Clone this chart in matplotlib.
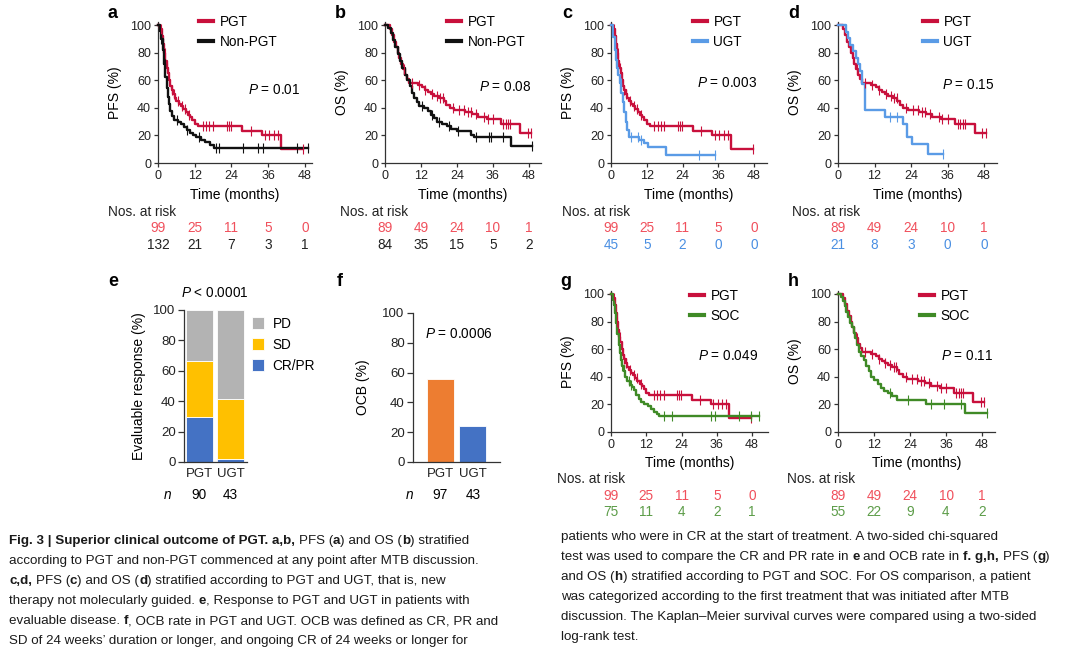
import numpy as np
import matplotlib
matplotlib.use('Agg')
import matplotlib.pyplot as plt
import matplotlib.transforms as mtransforms
from matplotlib.lines import Line2D

plt.rcParams['font.family'] = ['Liberation Sans', 'DejaVu Sans']
plt.rcParams['mathtext.fontset'] = 'custom'
plt.rcParams['mathtext.rm'] = 'Liberation Sans'
plt.rcParams['mathtext.it'] = 'Liberation Sans:italic'

# ---------------- data ----------------
risk_times = [0, 12, 24, 36, 48]

# PFS, PGT (same curve in a, c, g)
pfs_pgt_t = [0, 0.8, 1.2, 1.6, 2.0, 2.4, 2.8, 3.2, 3.6, 4.0, 4.5, 5.0, 5.5, 6.0, 6.8,
             7.5, 8.2, 9.0, 9.8, 10.5, 11.2, 12.0, 13.0, 27.5, 34.0, 40.3]
pfs_pgt_s = [100, 97, 92, 86, 80, 74, 69, 65, 60, 56, 53, 50, 47, 45, 43,
             41, 39, 37, 35, 33, 31, 28.5, 26.5, 23.5, 20.5, 10.5]
pfs_pgt_end = 47.5
pfs_pgt_cens = [1.1, 2.2, 2.9, 4.5, 5.2, 6.5, 7.8, 8.8, 10.2, 14.6, 15.7, 16.8, 17.9,
                22.4, 23.2, 23.9, 30.3, 34.8, 36.4, 37.8, 39.2, 47.5]

# PFS, non-PGT
pfs_non_t = [0, 0.5, 1.0, 1.5, 2.0, 2.4, 2.8, 3.2, 3.6, 4.0, 4.6, 5.3, 6.5, 7.5, 8.5,
             9.5, 10.5, 11.5, 12.5, 14.0, 15.5, 17.0, 18.3]
pfs_non_s = [100, 96, 90, 82, 72, 62, 54, 48, 43, 38, 34, 31, 29.5, 28, 26,
             24, 22, 20.5, 19, 17, 15, 13, 11]
pfs_non_end = 49.0
pfs_non_cens = [1.0, 2.3, 6.2, 9.5, 13.3, 18.8, 19.9, 27.6, 32.6, 34.2, 45.3, 49.0]

# OS, PGT (same curve in b, d, h)
os_pgt_t = [0, 1.8, 2.4, 3.0, 3.6, 4.2, 4.8, 5.4, 6.0, 6.6, 7.2, 8.0, 11.0, 12.5, 13.5,
            14.5, 15.5, 16.5, 18.0, 19.5, 20.3, 21.5, 23.0, 26.5, 29.0, 31.0, 34.0, 38.5, 45.0]
os_pgt_s = [100, 97, 93, 88, 84, 80, 76, 72, 68, 64, 61, 58, 56.5, 55, 53,
            51.5, 50, 48.5, 47, 45, 42, 40, 38.5, 37, 35.5, 33.5, 32, 28.5, 21.5]
os_pgt_end = 48.5
os_pgt_cens = [6.2, 9.0, 11.2, 13.5, 15.7, 17.4, 18.5, 19.3, 22.5, 24.7, 26.4, 27.5,
               28.7, 30.3, 33.1, 34.3, 36.0, 39.3, 40.2, 41.0, 41.6, 47.5, 48.5]

# OS, non-PGT
os_non_t = [0, 1.0, 2.0, 2.8, 3.5, 4.2, 5.0, 5.8, 6.6, 7.4, 8.2, 9.0, 9.8, 10.6,
            11.5, 13.0, 14.5, 15.5, 16.5, 17.5, 19.0, 20.5, 22.0, 24.0, 28.5, 29.5, 42.0]
os_non_s = [100, 98, 94, 89, 84, 79, 74, 69, 64, 60, 56, 51, 47, 44,
            41, 39.5, 37.5, 35, 32.5, 30, 28.5, 27, 25, 23, 20.5, 19, 12.5]
os_non_end = 49.0
os_non_cens = [12.3, 15.7, 18.0, 21.3, 24.2, 30.3, 34.8, 35.4, 39.3, 49.0]

# PFS, UGT
pfs_ugt_t = [0, 0.8, 1.2, 1.6, 2.0, 2.5, 3.0, 3.5, 4.0, 4.5, 5.0, 5.5, 6.0, 9.5,
             11.0, 12.3, 18.6]
pfs_ugt_s = [100, 91, 82, 75, 69, 64, 58, 51, 44, 37, 30, 24, 19, 17,
             14.5, 11.5, 5.5]
pfs_ugt_end = 35.0
pfs_ugt_cens = [1.7, 3.4, 6.7, 9.0, 10.1, 29.7, 35.0]

# OS, UGT
os_ugt_t = [0, 2.5, 3.2, 4.0, 5.0, 5.8, 6.5, 7.2, 7.8, 9.0, 15.5, 21.5, 22.6, 24.4, 29.5]
os_ugt_s = [100, 95.2, 90.5, 85.7, 81, 76.2, 71.4, 66.7, 57.1, 38.1, 33.3, 28.5, 19.0, 13.5, 6.7]
os_ugt_end = 34.5
os_ugt_cens = [17.0, 19.5, 34.5]

# PFS, SOC
pfs_soc_t = [0, 0.6, 1.0, 1.4, 1.8, 2.2, 2.6, 3.0, 3.4, 3.8, 4.3, 4.9, 5.6, 6.3, 7.0,
             7.8, 8.6, 9.4, 10.2, 11.2, 12.5, 13.5, 14.5, 15.5, 16.5]
pfs_soc_s = [100, 96, 92, 86, 79, 71, 63, 57, 52, 48, 44, 40, 37, 34, 32.5,
             30.5, 27, 24, 22, 20, 18.5, 16.5, 14.5, 13, 11.5]
pfs_soc_end = 50.5
pfs_soc_cens = [1.0, 3.4, 3.9, 6.2, 6.7, 17.9, 20.7, 34.2, 35.3, 43.7, 47.6, 50.5]

# OS, SOC
os_soc_t = [0, 1.0, 1.6, 2.2, 2.8, 3.4, 4.0, 4.6, 5.2, 5.8, 6.4, 7.0, 7.8, 8.6, 9.4,
            10.2, 11.0, 12.0, 13.2, 14.2, 15.2, 16.5, 18.0, 19.5, 29.4, 42.2]
os_soc_s = [100, 98, 95, 91, 87, 83, 79, 76, 72, 68, 63, 58, 55, 52, 48,
            44, 40, 38, 35, 32, 30, 28, 26, 23.5, 20, 14]
os_soc_end = 49.5
os_soc_cens = [17.3, 23.4, 31.0, 35.2, 41.0, 49.5]

# numbers at risk
risk_pfs_pgt = [99, 25, 11, 5, 0]
risk_os_pgt = [89, 49, 24, 10, 1]
risk_pfs_non = [132, 21, 7, 3, 1]
risk_os_non = [84, 35, 15, 5, 2]
risk_pfs_ugt = [45, 5, 2, 0, 0]
risk_os_ugt = [21, 8, 3, 0, 0]
risk_pfs_soc = [75, 11, 4, 2, 1]
risk_os_soc = [55, 22, 9, 4, 2]

# e: response (%), f: OCB (%)
groups = ['PGT', 'UGT']
resp_crpr = [29.6, 2.2]
resp_sd = [37.0, 39.2]
resp_pd = [33.4, 58.6]
resp_n = [90, 43]
ocb = [55.7, 24.2]
ocb_n = [97, 43]

# ---------------- style ----------------
RED = '#c8103c'
BLACK = '#111111'
BLUE = '#5a9be6'
GREEN = '#3f8a26'
TXT_RED = '#f0505c'
TXT_BLACK = '#222222'
TXT_BLUE = '#4a8fe2'
TXT_GREEN = '#5c9c48'
SPINE = '#333333'

W, H = 1080, 653
fig = plt.figure(figsize=(W / 100, H / 100), dpi=100)


def px_axes(left, top, right, bottom):
    return fig.add_axes([left / W, 1 - bottom / H, (right - left) / W, (bottom - top) / H])


def style_axes(ax, tick_fs):
    for s in ['top', 'right']:
        ax.spines[s].set_visible(False)
    for s in ['left', 'bottom']:
        ax.spines[s].set_color(SPINE)
        ax.spines[s].set_linewidth(0.9)
    ax.tick_params(direction='out', length=3, width=0.9, color=SPINE,
                   labelsize=tick_fs, labelcolor='#222222', pad=2)


def draw_km(ax, t, s, end, cens, color):
    xs = list(t) + [end]
    ys = list(s) + [s[-1]]
    ax.step(xs, ys, where='post', color=color, lw=1.7, clip_on=False, zorder=3)
    idx = np.searchsorted(t, cens, side='right') - 1
    ax.plot(cens, np.asarray(s)[idx], ls='none', marker='|', ms=6.5, mew=0.8,
            color=color, clip_on=False, zorder=4)


def km_panel(layout, ylabel, curves, labels, pval, ppos, risk, letter):
    left, x48, right, bottom = layout
    pxmo = (x48 - left) / 48.0
    top = bottom - 102 * 1.38
    ax = px_axes(left, top, right, bottom)
    style_axes(ax, 9)
    for c in curves:
        draw_km(ax, *c)
    ax.set_xlim(0, (right - left) / pxmo)
    ax.set_ylim(0, 102)
    ax.set_xticks(risk_times)
    ax.set_yticks([0, 20, 40, 60, 80, 100])
    ax.set_xlabel('Time (months)', fontsize=10, labelpad=4)
    ax.set_ylabel(ylabel, fontsize=10, labelpad=6)
    ax.text(ppos[0], ppos[1], pval, fontsize=9.8, ha='left', va='center')
    handles = [Line2D([], [], color=c[4], lw=3) for c in curves]
    lx, ly = letter[3], letter[4]
    ax.legend(handles, labels, loc='upper left', bbox_to_anchor=(lx / W, 1 - ly / H),
              bbox_transform=fig.transFigure, frameon=False, fontsize=9.8,
              handlelength=1.0, handletextpad=0.5, labelspacing=0.45,
              borderpad=0, borderaxespad=0)
    fig.text(letter[1] / W, 1 - letter[2] / H, letter[0], fontsize=13,
             fontweight='bold', ha='left', va='baseline')
    # numbers at risk
    rx, ry, rows = risk
    fig.text(rx / W, 1 - ry / H, 'Nos. at risk', fontsize=9.8, color=TXT_BLACK,
             ha='left', va='center')
    trans = mtransforms.blended_transform_factory(ax.transData, fig.transFigure)
    for k, (vals, col) in enumerate(rows):
        yy = 1 - (ry + 16.5 * (k + 1)) / H
        for tt, v in zip(risk_times, vals):
            ax.text(tt, yy, str(v), transform=trans, fontsize=9.8, color=col,
                    ha='center', va='center', clip_on=False)
    return ax


# a
km_panel((158, 305, 312, 163), 'PFS (%)',
         [(pfs_pgt_t, pfs_pgt_s, pfs_pgt_end, pfs_pgt_cens, RED),
          (pfs_non_t, pfs_non_s, pfs_non_end, pfs_non_cens, BLACK)],
         ['PGT', 'Non-PGT'], '$P$ = 0.01', (29.4, 53),
         (108, 212, [(risk_pfs_pgt, TXT_RED), (risk_pfs_non, TXT_BLACK)]),
         ('a', 107, 18, 199, 15))
# b
km_panel((385, 529, 541, 163), 'OS (%)',
         [(os_pgt_t, os_pgt_s, os_pgt_end, os_pgt_cens, RED),
          (os_non_t, os_non_s, os_non_end, os_non_cens, BLACK)],
         ['PGT', 'Non-PGT'], '$P$ = 0.08', (31.3, 55),
         (340, 212, [(risk_os_pgt, TXT_RED), (risk_os_non, TXT_BLACK)]),
         ('b', 335, 18, 447, 15))
# c
km_panel((611, 754, 767, 163), 'PFS (%)',
         [(pfs_pgt_t, pfs_pgt_s, pfs_pgt_end, pfs_pgt_cens, RED),
          (pfs_ugt_t, pfs_ugt_s, pfs_ugt_end, pfs_ugt_cens, BLUE)],
         ['PGT', 'UGT'], '$P$ = 0.003', (28.9, 58),
         (562, 212, [(risk_pfs_pgt, TXT_RED), (risk_pfs_ugt, TXT_BLUE)]),
         ('c', 562, 18, 693, 15))
# d
km_panel((838, 984, 997, 163), 'OS (%)',
         [(os_pgt_t, os_pgt_s, os_pgt_end, os_pgt_cens, RED),
          (os_ugt_t, os_ugt_s, os_ugt_end, os_ugt_cens, BLUE)],
         ['PGT', 'UGT'], '$P$ = 0.15', (34.2, 56.5),
         (792, 212, [(risk_os_pgt, TXT_RED), (risk_os_ugt, TXT_BLUE)]),
         ('d', 788, 18, 923, 15))
# g
km_panel((611, 752, 768, 432), 'PFS (%)',
         [(pfs_pgt_t, pfs_pgt_s, pfs_pgt_end, pfs_pgt_cens, RED),
          (pfs_soc_t, pfs_soc_s, pfs_soc_end, pfs_soc_cens, GREEN)],
         ['PGT', 'SOC'], '$P$ = 0.049', (29.6, 55),
         (557, 479, [(risk_pfs_pgt, TXT_RED), (risk_pfs_soc, TXT_GREEN)]),
         ('g', 560, 286, 690, 289))
# h
km_panel((838, 982, 995, 432), 'OS (%)',
         [(os_pgt_t, os_pgt_s, os_pgt_end, os_pgt_cens, RED),
          (os_soc_t, os_soc_s, os_soc_end, os_soc_cens, GREEN)],
         ['PGT', 'SOC'], '$P$ = 0.11', (34.3, 55),
         (787, 479, [(risk_os_pgt, TXT_RED), (risk_os_soc, TXT_GREEN)]),
         ('h', 788, 286, 920, 289))

# ---------------- e ----------------
C_PD = '#b3b3b3'
C_SD = '#ffc000'
C_CR = '#4472c4'
C_OR = '#ed7d31'

axe = px_axes(184, 310, 247, 462)
style_axes(axe, 9.5)
x = np.arange(len(groups))
bot_sd = np.array(resp_crpr)
bot_pd = bot_sd + np.array(resp_sd)
axe.bar(x, resp_crpr, 0.85, color=C_CR, edgecolor='white', lw=0.6, label='CR/PR')
axe.bar(x, resp_sd, 0.85, bottom=bot_sd, color=C_SD, edgecolor='white', lw=0.6, label='SD')
axe.bar(x, resp_pd, 0.85, bottom=bot_pd, color=C_PD, edgecolor='white', lw=0.6, label='PD')
axe.set_xlim(-0.48, 1.52)
axe.set_ylim(0, 100)
axe.set_yticks([0, 20, 40, 60, 80, 100])
axe.set_xticks(x)
axe.set_xticklabels(groups, fontsize=9.5)
axe.tick_params(axis='x', length=0, pad=4)
axe.tick_params(axis='y', length=4)
axe.set_ylabel('Evaluable response (%)', fontsize=10, labelpad=5)
h_, l_ = axe.get_legend_handles_labels()
axe.legend(h_[::-1], l_[::-1], loc='upper left', bbox_to_anchor=(252 / W, 1 - 317 / H),
           bbox_transform=fig.transFigure, frameon=False, fontsize=9.8,
           handlelength=0.9, handleheight=1.0, handletextpad=0.6, labelspacing=0.5,
           borderpad=0, borderaxespad=0)
fig.text(215 / W, 1 - 293 / H, '$P$ < 0.0001', fontsize=9.8, ha='center', va='center')
fig.text(108 / W, 1 - 286 / H, 'e', fontsize=13, fontweight='bold', ha='left', va='baseline')
tr_e = mtransforms.blended_transform_factory(axe.transData, fig.transFigure)
fig.text(168 / W, 1 - 495 / H, 'n', fontsize=9.8, style='italic', ha='center', va='center')
for xi, v in zip(x, resp_n):
    axe.text(xi, 1 - 495 / H, str(v), transform=tr_e, fontsize=9.8, ha='center', va='center')

# ---------------- f ----------------
axf = px_axes(413, 313, 500, 462)
style_axes(axf, 9.5)
axf.bar(x, ocb, 0.82, color=[C_OR, C_CR], edgecolor='white', lw=0.6)
axf.set_xlim(-0.82, 1.82)
axf.set_ylim(0, 100)
axf.set_yticks([0, 20, 40, 60, 80, 100])
axf.set_xticks(x)
axf.set_xticklabels(groups, fontsize=9.5)
axf.tick_params(axis='x', length=0, pad=4)
axf.tick_params(axis='y', length=4)
axf.set_ylabel('OCB (%)', fontsize=10, labelpad=9)
axf.text(-0.45, 86, '$P$ = 0.0006', fontsize=9.8, ha='left', va='center')
fig.text(337 / W, 1 - 286 / H, 'f', fontsize=13, fontweight='bold', ha='left', va='baseline')
tr_f = mtransforms.blended_transform_factory(axf.transData, fig.transFigure)
fig.text(410 / W, 1 - 495 / H, 'n', fontsize=9.8, style='italic', ha='center', va='center')
for xi, v in zip(x, ocb_n):
    axf.text(xi, 1 - 495 / H, str(v), transform=tr_f, fontsize=9.8, ha='center', va='center')

# ---------------- caption ----------------
B, N = True, False
cap_left = [
    [('Fig. 3 | Superior clinical outcome of PGT. a,b,', B), (' PFS (', N), ('a', B),
     (') and OS (', N), ('b', B), (') stratified', N)],
    [('according to PGT and non-PGT commenced at any point after MTB discussion.', N)],
    [('c,d,', B), (' PFS (', N), ('c', B), (') and OS (', N), ('d', B),
     (') stratified according to PGT and UGT, that is, new', N)],
    [('therapy not molecularly guided. ', N), ('e', B),
     (', Response to PGT and UGT in patients with', N)],
    [('evaluable disease. ', N), ('f', B),
     (', OCB rate in PGT and UGT. OCB was defined as CR, PR and', N)],
    [('SD of 24 weeks\u2019 duration or longer, and ongoing CR of 24 weeks or longer for', N)],
]
cap_right = [
    [('patients who were in CR at the start of treatment. A two-sided chi-squared', N)],
    [('test was used to compare the CR and PR rate in ', N), ('e', B),
     (' and OCB rate in ', N), ('f. g,h,', B), (' PFS (', N), ('g', B), (')', N)],
    [('and OS (', N), ('h', B),
     (') stratified according to PGT and SOC. For OS comparison, a patient', N)],
    [('was categorized according to the first treatment that was initiated after MTB', N)],
    [('discussion. The Kaplan\u2013Meier survival curves were compared using a two-sided', N)],
    [('log-rank test.', N)],
]

CAP_FS = 9.6
renderer = fig.canvas.get_renderer()


def text_w(s, bold):
    t = fig.text(0, 0, s, fontsize=CAP_FS, fontweight='bold' if bold else 'normal')
    w = t.get_window_extent(renderer).width
    t.remove()
    return w


space_w = text_w('a a', N) - text_w('aa', N)


def draw_caption(lines, x0, y0):
    for i, segs in enumerate(lines):
        xp = x0
        yp = y0 + 20 * i
        for s, bold in segs:
            lead = len(s) - len(s.lstrip(' '))
            trail = len(s) - len(s.rstrip(' '))
            core = s.strip(' ')
            xp += lead * space_w
            t = fig.text(xp / W, 1 - yp / H, core, fontsize=CAP_FS, color='#1a1a1a',
                         fontweight='bold' if bold else 'normal', ha='left', va='baseline')
            xp += t.get_window_extent(renderer).width
            xp += trail * space_w


draw_caption(cap_left, 9, 544)
draw_caption(cap_right, 561, 540)

fig.savefig('out.png', dpi=100)
